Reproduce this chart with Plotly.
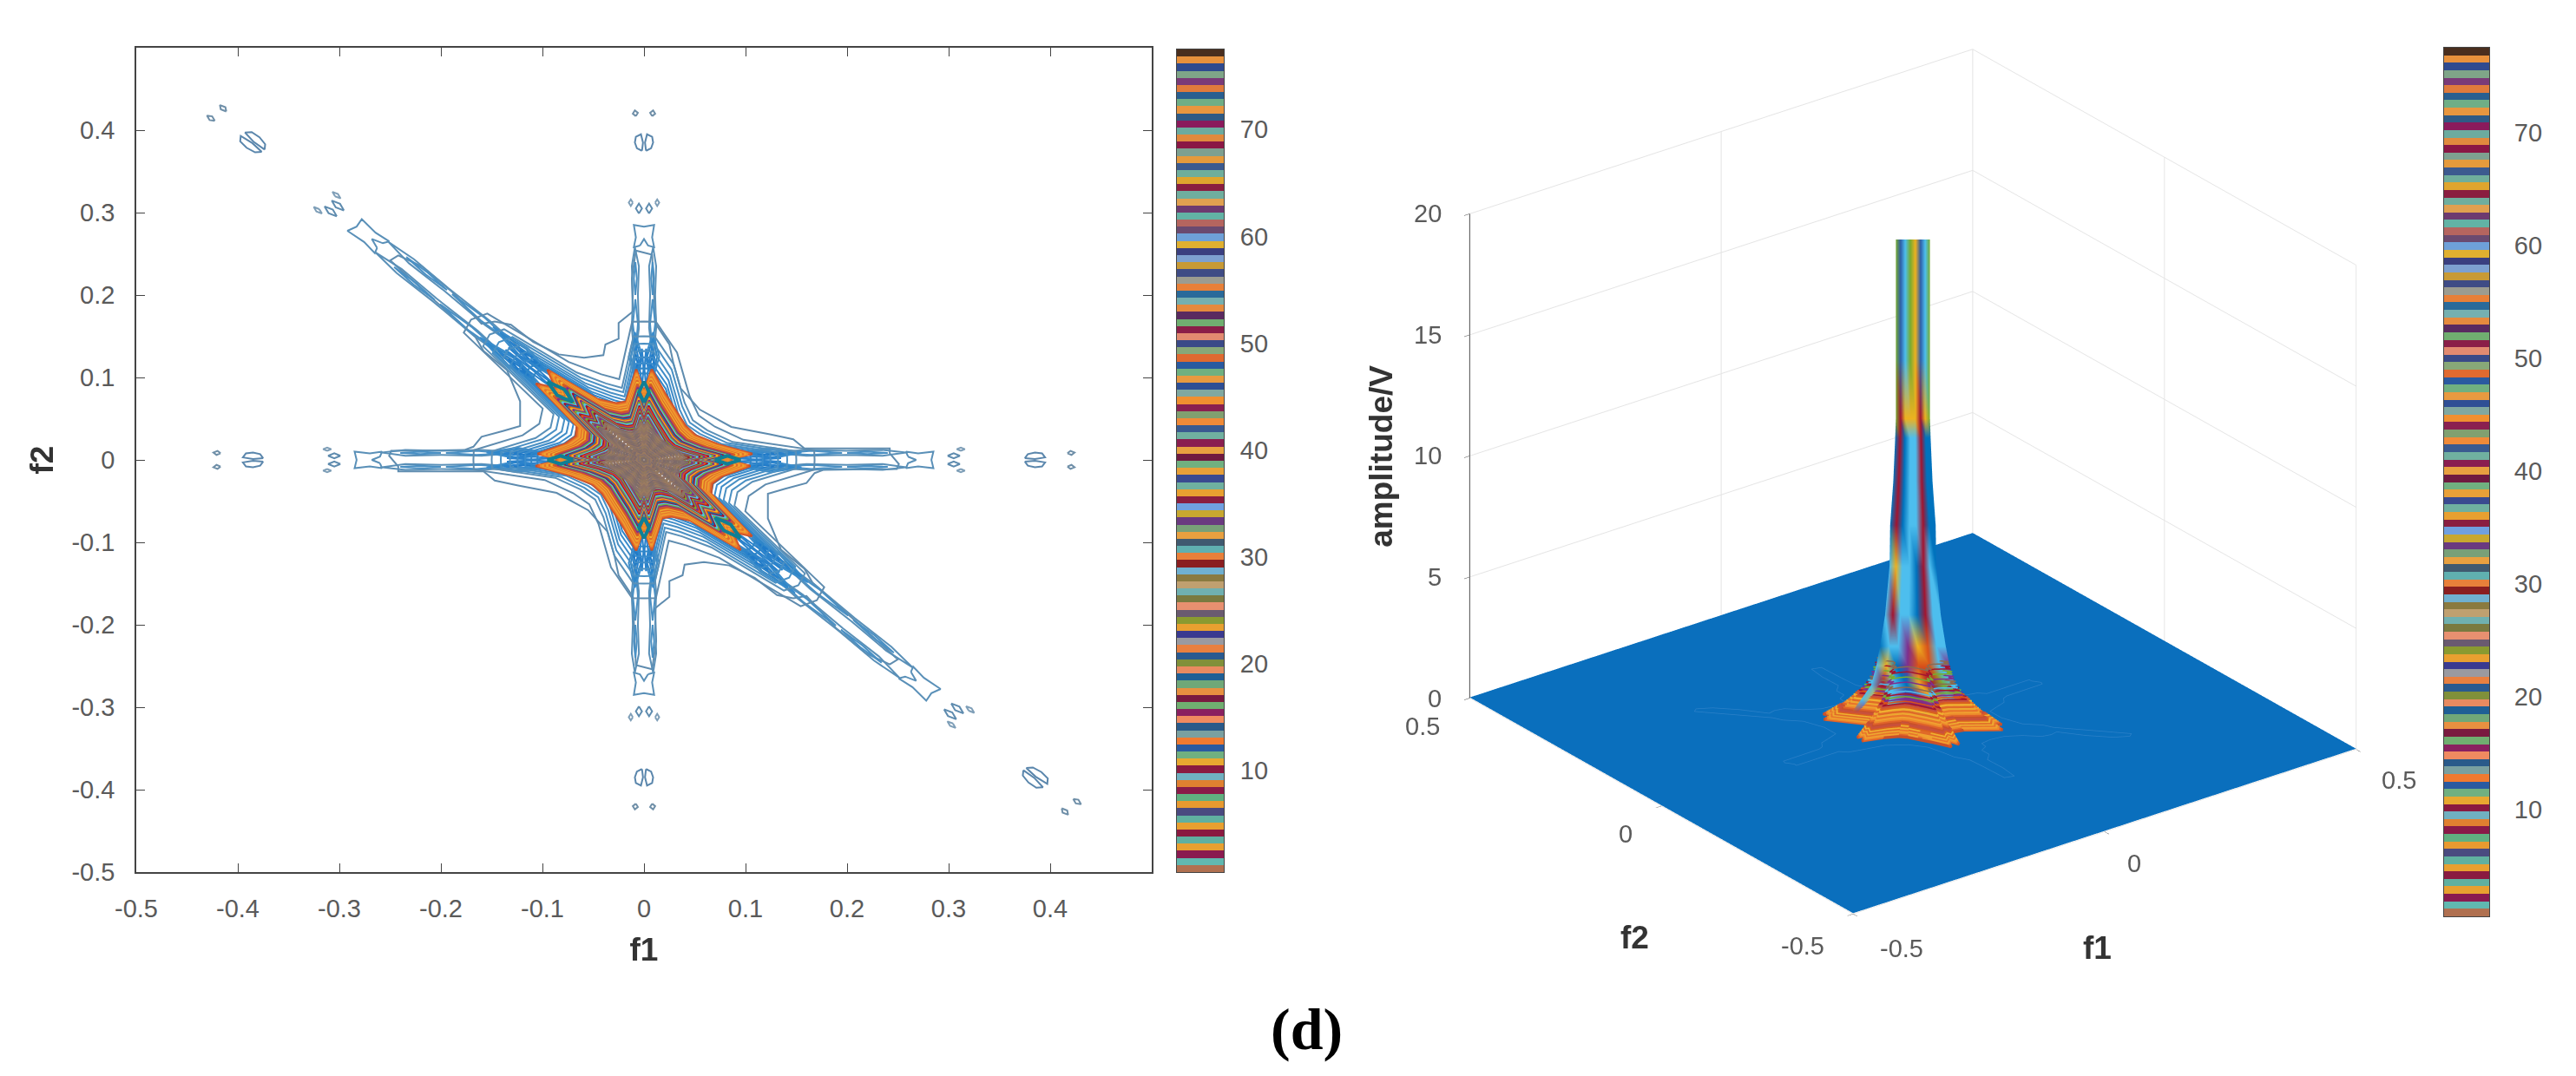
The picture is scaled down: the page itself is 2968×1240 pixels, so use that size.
"""Contour map and 3D amplitude view of a bi-frequency spectrum, with striped colour bars."""
import numpy as np
import plotly.graph_objects as go

W, H = 2968, 1240

# colour bar stripes, top to bottom
STRIPES = [
    "#4a2e1e", "#e8913c", "#2f4a8f", "#7fa588", "#7a3a78", "#e07a3c", "#2a5f90", "#6fae86", "#e8963f", "#2f5a85",
    "#8a1a5c", "#6cab9f", "#e08a3e", "#8a1745", "#7ea090", "#e59a3c", "#3c5a8f", "#6fae9c", "#dfa52e", "#8a1e40",
    "#6fae9e", "#e0a050", "#6d3a70", "#62b3a5", "#b5655f", "#6a4a70", "#6ea0d8", "#e0b030", "#3a3f80", "#7da0d0",
    "#c89a35", "#3f4c85", "#9c9c90", "#e88038", "#2a6a9a", "#75b0b0", "#e58a3e", "#5a2a60", "#70ae70", "#8a1e48",
    "#e28a70", "#3a4a88", "#88a878", "#e06a30", "#2a5aa0", "#70b080", "#e89a40", "#2f4f95", "#80a8a0", "#f09030",
    "#8a2050", "#80a070", "#f08a38", "#3a5a90", "#70b0a0", "#8a1e50", "#e8a040", "#701a40", "#70b080", "#e8a038",
    "#3a4a90", "#6fb0a0", "#e8a030", "#8a1e40", "#70a0e0", "#c8a830", "#6a3a80", "#78a078", "#e8a040", "#405a70",
    "#60b0b0", "#e8803a", "#8a1e20", "#70b0d0", "#8a7a40", "#c0a070", "#70b0b0", "#7a7a40", "#e89070", "#6a5a70",
    "#8a9a30", "#e8a030", "#3a3a90", "#9a9aa0", "#e88040", "#2a5a90", "#80903a", "#e88a60", "#1f5f95", "#70a878",
    "#e89040", "#7a1a40", "#70ae70", "#8a2060", "#f08a60", "#2a5a8a", "#7aa0a0", "#f07a30", "#2a5aa0", "#70b080",
    "#e8a830", "#8a1a40", "#70b0c0", "#e08030", "#8a1a48", "#60b080", "#e89a30", "#4a4a80", "#60b0a0", "#e8a030",
    "#8a1a40", "#60b0a0", "#e8a030", "#8a1a50", "#60b8b0", "#b07050",
]
BAR_TICKS = [10, 20, 30, 40, 50, 60, 70]
F_TICKS = [-0.5, -0.4, -0.3, -0.2, -0.1, 0, 0.1, 0.2, 0.3, 0.4]
Z_TICKS = [0, 5, 10, 15, 20]

# outermost contour, first half; the map is point symmetric so the rest is its negative
OUTER_F1 = [-0.008, -0.012, -0.011, -0.025, -0.025, -0.038, -0.04, -0.059, -0.084, -0.109, -0.131, -0.147, -0.16,
            -0.189, -0.219, -0.242, -0.25, -0.216, -0.166, -0.158, -0.135, -0.122, -0.122, -0.139, -0.16, -0.168,
            -0.177, -0.249, -0.251, -0.242, -0.242, -0.158, -0.147, -0.124, -0.086, -0.055, -0.036, -0.029, -0.025,
            -0.012, -0.01, -0.008]
OUTER_F2 = [0.254, 0.22, 0.18, 0.166, 0.147, 0.14, 0.127, 0.124, 0.128, 0.143, 0.164, 0.168, 0.165,
            0.204, 0.235, 0.248, 0.242, 0.204, 0.149, 0.132, 0.109, 0.071, 0.041, 0.035, 0.028, 0.016,
            0.012, 0.011, 0.005, -0.008, -0.014, -0.014, -0.025, -0.031, -0.04, -0.061, -0.087, -0.117, -0.14,
            -0.164, -0.196, -0.249]

# star contours: radius at each spoke angle, half plane
SPOKES = [0, 4, 14, 30, 45, 60, 76, 86, 90, 94, 104, 112, 122, 131, 135, 139, 148, 157, 166, 176]
BLUE_SHAPE = [.15, .15, .09, .072, .068, .08, .12, .15, .15, .15, .09, .1, .125, .21, .215, .21, .105, .1, .11, .15]
ORANGE_SHAPE = [.082, .107, .076, .059, .058, .066, .084, .11, .083, .11, .073, .074, .087, .145, .123, .141, .078, .073, .08, .105]
CORE_SHAPE = [.05, .055, .05, .042, .04, .042, .05, .062, .055, .062, .05, .05, .058, .08, .075, .08, .052, .05, .05, .058]
SKEW_SHAPE = [.046, .05, .052, .04, .043, .039, .054, .058, .05, .056, .054, .047, .062, .072, .07, .084, .048, .054, .046, .062]

BLUE_SCALES = [1.12, 1.0, 0.94, 0.88, 0.83, 0.78, 0.74, 0.7]
BLUE_COLORS = ["#5f8caf", "#5a90b8", "#4a90c4", "#4a90c4", "#3f8cc8", "#3a8ccc", "#2f86c8", "#2f86c8"]
ORANGE_SCALES = [1.0, 0.98, 0.96, 0.94, 0.92, 0.9, 0.88, 0.86, 0.84, 0.82]
ORANGE_COLORS = ["#c8502a", "#e0622a", "#ec8a2c", "#f0a030", "#e8752a", "#eda830", "#e06a28", "#f0b030", "#d9601f", "#c9503c"]
ORANGE_Z = [0.06, 0.1, 0.15, 0.2, 0.25, 0.3, 0.35, 0.4, 0.45, 0.5]
MID_SCALES = [0.8, 0.78, 0.76, 0.74, 0.72, 0.7, 0.68, 0.66, 0.64, 0.62, 0.6, 0.58, 0.56, 0.54, 0.52, 0.5, 0.48, 0.46,
              0.44, 0.42, 0.4]
MID_COLORS = ["#7e2f8e", "#77ac30", "#4dbeee", "#a2142f", "#0072bd", "#d95319", "#edb120", "#7e2f8e", "#77ac30",
              "#4dbeee", "#a2142f", "#d95319", "#7e2f8e", "#77ac30", "#a2142f", "#4dbeee", "#8a6a50", "#7e2f8e",
              "#77ac30", "#a2142f", "#8a6a50"]
MID_Z = [0.55, 0.6, 0.66, 0.72, 0.78, 0.85, 0.92, 1.0, 1.08, 1.15, 1.2, 1.28, 1.36, 1.45, 1.55, 1.65, 1.8, 2.0, 2.2,
         2.4, 2.6]
CENTER_SCALES = [0.73, 0.7, 0.67, 0.64, 0.61, 0.58, 0.55, 0.52, 0.49, 0.46, 0.43, 0.4, 0.37, 0.34, 0.31, 0.28, 0.25,
                 0.22, 0.19, 0.16, 0.13, 0.1, 0.07, 0.04]
CENTER_COLORS = ["#8f7265", "#7d6a6a", "#9a7a60", "#85706f", "#93785f", "#7f6d68"]

# closed lobes along each arm: distance along the arm, distance off its centre line
LOBES = [
    ([.12, .16, .2, .235, .258, .235, .2, .16], [.009, .005, .006, .005, .009, .012, .011, .012]),
    ([.135, .165, .195, .165], [.008, .006, .0085, .011]),
    ([.2, .22, .24, .22], [.0085, .007, .0085, .01]),
    ([.1, .125, .148, .125], [.008, .003, .009, .013]),
    ([.104, .12, .138, .12], [.008, .005, .008, .011]),
    ([.108, .118, .128, .118], [.008, .0065, .008, .0095]),
    ([.095, .125, .155, .125], [.008, .0015, .009, .015]),
    ([.088, .11, .135, .11], [.002, .0005, .002, .004]),
    ([.299, .305, .311, .305], [.005, .002, .005, .008]),
    ([.312, .316, .312, .308], [.011, .013, .015, .013]),
    ([.375, .385, .395, .392, .385, .378], [.002, .001, .003, .008, .009, .007]),
    ([.417, .421, .424, .42], [.008, .006, .009, .011]),
]
LOBE_COLORS = ["#5a90b8", "#4a90c4", "#4a90c4", "#2f86c8", "#2a82cc", "#1f7ac8", "#3a8ccc", "#2a82cc", "#5f8caf", "#7f9fb8", "#5a86ac", "#6f8fa8"]
CAP_S = [.26, .258, .27, .285, .283, .285, .27, .258, .26, .268, .26]
CAP_T = [.004, .01, .008, .01, 0, -.01, -.008, -.01, -.004, 0, .004]
CORE_S = [.07, .082, .095, .082, .07]
CORE_T = [0, .005, 0, -.005, 0]
ARM_DIRS = [(1, 0), (0, 1), (-1, 1), (-1, 0), (0, -1), (1, -1)]

# amplitude column: height, half width, and one colour letter per height for each strand
COLUMN_Z = [0.5, 1, 1.6, 2.4, 3.2, 4.5, 6.5, 8.2, 10, 11.8, 12.6, 15, 17.5, 20]
COLUMN_R = [.096, .082, .066, .058, .052, .044, .037, .036, .031, .028, .027, .027, .027, .027]
STRAND_U = [-1, -0.72, -0.45, -0.15, 0.15, 0.45, 0.72, 1]
STRAND_COLORS = [
    "OCCCBCCBBBGGGG",
    "PYRYCRYRRRRNNN",
    "YCCBCCCBBBYCCC",
    "GPBPPCCCCCYGGG",
    "RPYOYBBCCCYYYY",
    "PYROORRRRRRNNN",
    "OCGCCCCBBBYCCC",
    "YPCPCCBBBBGGGG",
]
PALETTE = {"B": "#0072bd", "O": "#d95319", "Y": "#edb120", "P": "#7e2f8e", "G": "#77ac30", "C": "#4dbeee",
           "R": "#a2142f", "N": "#2f5fa8"}
VIEW_RIGHT = (0.795, -0.606)
PLANE_F = [-0.5, 0.5]
PLANE_Z = [[0.03, 0.03], [0.03, 0.03]]


def px_x(a, b):
    return [a / W, b / W]


def px_y(top, bottom):
    return [1 - bottom / H, 1 - top / H]


def star(shape, scale):
    ang = np.radians(SPOKES + [a + 180 for a in SPOKES] + [SPOKES[0]])
    r = np.array(shape + shape + shape[:1]) * scale
    return r * np.cos(ang), r * np.sin(ang)


def arm(s, t, d):
    s, t = np.array(s), np.array(t)
    norm = np.hypot(*d)
    return s * d[0] - t * d[1] / norm, s * d[1] + t * d[0] / norm


def close(seq):
    return list(seq) + [seq[0]]


fig = go.Figure()


def line2d(x, y, color, width=2):
    fig.add_trace(go.Scatter(x=x, y=y, mode="lines", line=dict(color=color, width=width),
                             hoverinfo="skip", showlegend=False, xaxis="x", yaxis="y"))


def line3d(x, y, z, color, width=4):
    fig.add_trace(go.Scatter3d(x=x, y=y, z=z, mode="lines", line=dict(color=color, width=width),
                               hoverinfo="skip", showlegend=False, scene="scene"))


# contour map
outer_x = OUTER_F1 + [-v for v in OUTER_F1] + OUTER_F1[:1]
outer_y = OUTER_F2 + [-v for v in OUTER_F2] + OUTER_F2[:1]
line2d(outer_x, outer_y, "#5f8caf")
for d in ARM_DIRS:
    x, y = arm(CAP_S, CAP_T, d)
    line2d(x, y, "#5a90b8")
    for (ls, lt), col in zip(LOBES, LOBE_COLORS):
        for sign in (1, -1):
            x, y = arm(close(ls), [sign * v for v in close(lt)], d)
            line2d(x, y, col)
for sc, col in zip(BLUE_SCALES, BLUE_COLORS):
    x, y = star(BLUE_SHAPE, sc)
    line2d(x, y, col)
for sc, col in zip(ORANGE_SCALES, ORANGE_COLORS):
    x, y = star(ORANGE_SHAPE, sc)
    line2d(x, y, col, 2.6)
for sc, col in zip(MID_SCALES, MID_COLORS):
    x, y = star(ORANGE_SHAPE, sc)
    line2d(x, y, col)
for d in ARM_DIRS:
    x, y = arm(CORE_S, CORE_T, d)
    line2d(x, y, "#0f7f95", 4)
for i, sc in enumerate(CENTER_SCALES):
    x, y = star(SKEW_SHAPE if i % 2 else CORE_SHAPE, sc)
    line2d(x, y, CENTER_COLORS[i % len(CENTER_COLORS)], 2.4)

# colour bars
n = len(STRIPES)
bar_scale = [[i / (n - 1), c] for i, c in enumerate(STRIPES[::-1])]
bar_y = [0.5 + (i + 0.5) * 77 / n for i in range(n)]
bar_z = [[i] for i in range(n)]
for xa, ya in (("x2", "y2"), ("x3", "y3")):
    fig.add_trace(go.Heatmap(x=[0], y=bar_y, z=bar_z, zmin=0, zmax=n - 1, colorscale=bar_scale, showscale=False,
                             hoverinfo="skip", xaxis=xa, yaxis=ya))

# 3D view
fig.add_trace(go.Surface(x=PLANE_F, y=PLANE_F, z=PLANE_Z, colorscale=[[0, "#0a6fbd"], [1, "#0a6fbd"]], showscale=False,
                         hoverinfo="skip", lighting=dict(ambient=1, diffuse=0, specular=0, fresnel=0), scene="scene"))
x, y = np.array(outer_x), np.array(outer_y)
line3d(x, y, [0.05] * len(x), "#2a80c8", 1.5)

# the column is one sheet across the strands, coloured vertex by vertex
col_x, col_y, col_z, col_c, tri_i, tri_j, tri_k = [], [], [], [], [], [], []
levels = len(COLUMN_Z)
for a, (u, letters) in enumerate(zip(STRAND_U, STRAND_COLORS)):
    for b in range(levels):
        col_x.append(u * COLUMN_R[b] * VIEW_RIGHT[0])
        col_y.append(u * COLUMN_R[b] * VIEW_RIGHT[1])
        col_z.append(COLUMN_Z[b])
        col_c.append(PALETTE[letters[b]])
        if a < len(STRAND_U) - 1 and b < levels - 1:
            p = a * levels + b
            tri_i += [p, p + 1]
            tri_j += [p + levels, p + levels]
            tri_k += [p + 1, p + levels + 1]
fig.add_trace(go.Mesh3d(x=col_x, y=col_y, z=col_z, i=tri_i, j=tri_j, k=tri_k, vertexcolor=col_c, hoverinfo="skip",
                        lighting=dict(ambient=1, diffuse=0, specular=0, fresnel=0), scene="scene"))
for sc, col, z in zip(ORANGE_SCALES, ORANGE_COLORS, ORANGE_Z):
    x, y = star(ORANGE_SHAPE, sc)
    line3d(x, y, [z] * len(x), col, 9)
for i, (sc, col, z) in enumerate(zip(MID_SCALES, MID_COLORS, MID_Z)):
    x, y = star(ORANGE_SHAPE, sc)
    line3d(x, y, [z] * len(x), ORANGE_COLORS[i] if i < len(ORANGE_COLORS) else col, 5 if i < len(ORANGE_COLORS) else 3)

TXT = "#5a5a5a"
tick_font = dict(family="Liberation Sans, Arial", size=29, color=TXT)
title_font = dict(family="Liberation Sans, Arial", size=37, color="#333333")
scene_notes = []


def note(x, y, z, text, dx, dy, font=tick_font, **kw):
    scene_notes.append(dict(x=x, y=y, z=z, text=text, showarrow=False, xshift=dx, yshift=-dy, font=font, **kw))


for v in Z_TICKS:
    note(-0.5, 0.5, v, str(v), -30, 0, xanchor="right")
note(-0.5, 0.5, 0, "0.5", -54, 32)
note(-0.5, 0, 0, "0", -41, 32)
note(-0.5, -0.5, 0, "-0.5", -58, 37)
note(-0.5, -0.5, 0, "-0.5", 56, 40)
note(0, -0.5, 0, "0", 34, 37)
note(0.5, -0.5, 0, "0.5", 49, 35)
note(-0.5, 0, 0, "<b>f2</b>", -31, 152, title_font)
note(0, -0.5, 0, "<b>f1</b>", -8, 134, title_font)
note(-0.5, 0.5, 10, "<b>amplitude/V</b>", -102, 0, title_font, textangle=-90)

grid = dict(showgrid=True, gridcolor="#e4e4e4", gridwidth=2, showbackground=False, zeroline=False, showspikes=False,
            showticklabels=False, title=dict(text=""))
k = 1.5
box = 1.313
plain = dict(automargin=False, showgrid=False, zeroline=False)
layout = dict(
    width=W, height=H, margin=dict(l=0, r=0, t=0, b=0), paper_bgcolor="white", plot_bgcolor="white", showlegend=False,
    xaxis=dict(plain, domain=px_x(157, 1327), range=[-0.5, 0.5], tickvals=F_TICKS, ticktext=[f"{v:g}" for v in F_TICKS],
               ticks="inside", ticklen=10, tickcolor="#444", showline=True, linecolor="#444", linewidth=1.5,
               mirror="ticks", tickfont=tick_font, ticklabelstandoff=15,
               title=dict(text="<b>f1</b>", font=title_font, standoff=20)),
    yaxis=dict(plain, domain=px_y(55, 1005), range=[-0.5, 0.5], tickvals=F_TICKS, ticktext=[f"{v:g}" for v in F_TICKS],
               ticks="inside", ticklen=10, tickcolor="#444", showline=True, linecolor="#444", linewidth=1.5,
               mirror="ticks", tickfont=tick_font, ticklabelstandoff=17,
               title=dict(text="<b>f2</b>", font=title_font, standoff=10)),
    xaxis2=dict(plain, domain=px_x(1356, 1410), range=[-0.5, 0.5], showticklabels=False, ticks="", showline=True,
                linecolor="#444", mirror=True, anchor="y2"),
    yaxis2=dict(plain, domain=px_y(57, 1005), range=[0.5, 77.5], tickvals=BAR_TICKS, side="right", ticks="", anchor="x2",
                showline=True, linecolor="#444", mirror=True, tickfont=tick_font, ticklabelstandoff=12),
    xaxis3=dict(plain, domain=px_x(2816, 2868), range=[-0.5, 0.5], showticklabels=False, ticks="", showline=True,
                linecolor="#444", mirror=True, anchor="y3"),
    yaxis3=dict(plain, domain=px_y(55, 1056), range=[0.5, 77.5], tickvals=BAR_TICKS, side="right", ticks="", anchor="x3",
                showline=True, linecolor="#444", mirror=True, tickfont=tick_font, ticklabelstandoff=22),
    scene=dict(
        domain=dict(x=px_x(1640, 2768), y=px_y(0, 1110)),
        xaxis=dict(grid, range=[-0.5, 0.5], tickvals=[-0.5, 0, 0.5], ticks="outside", ticklen=8, tickcolor="#444"),
        yaxis=dict(grid, range=[-0.5, 0.5], tickvals=[-0.5, 0, 0.5], ticks="outside", ticklen=8, tickcolor="#444"),
        zaxis=dict(grid, range=[0, 20], tickvals=Z_TICKS, ticks="outside", ticklen=8, tickcolor="#444",
                   showline=True, linecolor="#333333", linewidth=2),
        aspectmode="manual", aspectratio=dict(x=box, y=box, z=0.848 * box),
        camera=dict(eye=dict(x=-0.606 * k, y=-0.795 * k, z=0.475 * k), center=dict(x=0, y=0, z=0), up=dict(x=0, y=0, z=1),
                    projection=dict(type="orthographic")),
        annotations=scene_notes,
    ),
    annotations=[dict(x=1505 / W, y=1 - 1186 / H, xref="paper", yref="paper", text="<b>(d)</b>", showarrow=False,
                      xanchor="center", yanchor="middle",
                      font=dict(family="Liberation Serif, Times New Roman", size=68, color="#000000"))],
)
fig.update_layout(**layout)
fig.write_html("out.html", post_script="document.body.style.margin='0';", config=dict(displayModeBar=False))
